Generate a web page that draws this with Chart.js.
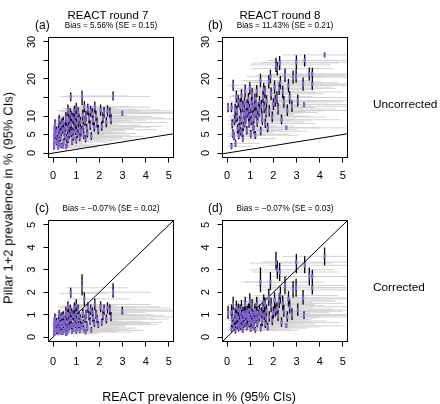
<!DOCTYPE html>
<html>
<head>
<meta charset="utf-8">
<script src="https://cdn.jsdelivr.net/npm/chart.js@4.4.1/dist/chart.umd.min.js"></script>
<style>
  body { margin: 0; background: #fff; }
  #wrap { position: relative; width: 440px; height: 404px; overflow: hidden; font-family: "Liberation Sans", Arial, sans-serif; color: #000; }
  canvas { position: absolute; left: 0; top: 0; }
  .t { position: absolute; white-space: nowrap; transform: translate(-50%, -50%); }
  .l { position: absolute; white-space: nowrap; transform: translateY(-50%); }
</style>
</head>
<body>
<div id="wrap">
  <canvas id="panelA" width="440" height="404"></canvas>
  <canvas id="panelB" width="440" height="404"></canvas>
  <canvas id="panelC" width="440" height="404"></canvas>
  <canvas id="panelD" width="440" height="404"></canvas>

  <div class="t" style="left:108px;top:15px;font-size:11.5px">REACT round 7</div>
  <div class="t" style="left:280px;top:15px;font-size:11.5px">REACT round 8</div>
  <div class="l" style="left:35px;top:25px;font-size:12px">(a)</div>
  <div class="l" style="left:208px;top:25px;font-size:12px">(b)</div>
  <div class="l" style="left:35px;top:208px;font-size:12px">(c)</div>
  <div class="l" style="left:208px;top:208px;font-size:12px">(d)</div>
  <div class="t" style="left:111px;top:25px;font-size:8.2px">Bias = 5.56% (SE = 0.15)</div>
  <div class="t" style="left:285px;top:25px;font-size:8.2px">Bias = 11.43% (SE = 0.21)</div>
  <div class="t" style="left:111px;top:208px;font-size:8.2px">Bias = −0.07% (SE = 0.02)</div>
  <div class="t" style="left:285px;top:208px;font-size:8.2px">Bias = −0.07% (SE = 0.03)</div>
  <div class="l" style="left:373px;top:104px;font-size:11.8px">Uncorrected</div>
  <div class="l" style="left:373px;top:287px;font-size:11.8px">Corrected</div>
  <div class="t" style="left:8px;top:198px;font-size:13px;transform:translate(-50%,-50%) rotate(-90deg)">Pillar 1+2 prevalence in % (95% CIs)</div>
  <div class="t" style="left:199px;top:397px;font-size:12.5px">REACT prevalence in % (95% CIs)</div>
</div>
<script>
// tick labels
const xTickLabels = [0, 1, 2, 3, 4, 5];
const uncorrectedYLabels = [0, 5, 10, 20, 30];
const correctedYLabels = [0, 1, 2, 3, 4, 5];

// REACT round 7: REACT prevalence (x) with 95% CI
const r7X   = [0.04,0.05,0.06,0.05,0.07,0.06,0.08,0.22,0.25,0.20,0.28,0.24,0.30,0.26,0.32,0.42,0.45,0.50,0.48,0.52,0.44,0.55,0.40,0.60,0.65,0.70,0.62,0.72,0.68,0.76,0.74,0.82,0.88,0.85,0.90,0.95,0.80,0.92,1.00,1.05,1.10,1.02,1.12,1.08,1.15,1.25,1.35,1.20,1.30,1.38,1.28,1.40,1.50,1.55,1.60,1.48,1.65,1.70,1.80,1.85,1.90,1.95,1.78,2.05,2.15,2.20,2.30,2.35,2.45,2.50,2.10,2.59,2.99,
               0.35,0.38,0.58,0.58,0.66,0.78,0.78,0.86,0.97,0.98,1.18,1.22,1.32,1.45,1.42,1.62,1.72,0.15,0.15,0.12,0.35,0.55,1.00,0.64];
const r7XLo = [0.00,0.00,0.00,0.00,0.00,0.00,0.00,0.02,0.03,0.02,0.05,0.03,0.05,0.04,0.06,0.08,0.10,0.12,0.10,0.12,0.10,0.15,0.08,0.15,0.18,0.20,0.16,0.20,0.20,0.30,0.22,0.25,0.28,0.26,0.30,0.32,0.25,0.30,0.40,0.42,0.45,0.40,0.45,0.44,0.50,0.55,0.60,0.50,0.58,0.60,0.55,0.60,0.65,0.70,0.72,0.65,0.75,0.78,0.85,0.90,0.95,0.95,0.85,1.00,1.05,1.10,1.15,1.20,1.25,1.30,1.05,1.20,1.50,
               0.06,0.07,0.15,0.15,0.19,0.24,0.24,0.27,0.34,0.35,0.50,0.52,0.58,0.64,0.62,0.73,0.80,0.01,0.01,0.01,0.06,0.14,0.40,0.17];
const r7XHi = [0.7,0.8,0.9,0.8,1.0,0.9,1.1,1.2,1.3,1.1,1.4,1.3,1.5,1.3,1.6,1.6,1.7,1.8,1.9,1.9,1.7,2.0,1.6,2.0,2.1,2.2,2.1,2.3,2.2,2.4,2.3,2.4,2.5,2.5,2.6,2.7,2.4,2.6,2.7,2.8,2.9,2.8,3.0,2.9,3.0,3.2,3.3,3.1,3.2,3.4,3.2,3.4,3.6,3.7,3.8,3.6,3.9,4.0,4.2,4.3,4.4,4.5,4.2,4.6,4.8,4.9,5.0,5.1,5.3,5.3,4.7,4.2,5.3,
               1.5,1.5,2.0,2.0,2.2,2.4,2.4,2.5,2.7,2.7,3.1,3.1,3.3,3.5,3.5,3.8,4.0,1.0,1.0,0.9,1.5,1.9,2.7,2.1];
// round 7: Pillar 1+2 prevalence, uncorrected
const r7YUnc   = [1.5,2.4,3.3,4.4,5.4,6.6,7.7,1.4,2.6,3.8,5.0,6.2,7.3,8.8,4.2,1.9,3.0,4.5,5.8,7.0,8.3,9.5,6.4,2.2,3.6,5.0,6.3,7.6,9.0,15.2,10.5,3.0,4.3,5.7,7.0,8.4,9.8,11.2,3.5,5.2,6.5,7.8,9.2,10.8,4.2,15.4,12.5,5.6,7.2,8.7,10.2,3.8,11.8,9.4,7.5,5.3,4.5,10.6,12.4,9.9,8.2,6.3,7.0,11.6,9.5,11.0,8.3,11.4,10.9,9.2,7.2,15.3,10.7,
                  5.6,7.9,4.0,8.7,6.9,5.4,8.0,9.3,6.0,10.0,8.4,6.1,4.8,6.6,9.9,11.3,8.9,3.0,6.0,4.9,2.0,1.6,12.0,11.5];
const r7YUncLo = [0.9,1.6,2.4,3.4,4.3,5.4,6.3,0.8,1.8,2.8,3.9,5.0,6.0,7.4,3.1,1.2,2.2,3.5,4.6,5.7,6.9,8.0,5.2,1.5,2.7,3.9,5.1,6.3,7.6,14.0,9.0,2.2,3.3,4.6,5.8,7.0,8.3,9.7,2.6,4.1,5.3,6.5,7.8,9.3,3.2,12.9,11.0,4.5,6.0,7.3,8.7,2.9,10.3,8.0,6.2,4.2,3.5,9.1,10.9,8.5,6.9,5.1,5.8,10.1,8.1,9.5,7.0,9.9,9.4,7.8,6.0,14.2,10.0,
                  4.5,6.6,3.0,7.3,5.7,4.3,6.7,7.9,4.9,8.5,7.1,5.0,3.8,5.4,8.5,9.8,7.5,2.1,4.9,3.8,1.3,1.0,10.5,10.0];
const r7YUncHi = [2.2,3.3,4.3,5.5,6.6,7.9,9.1,2.1,3.5,4.9,6.2,7.5,8.7,10.3,5.4,2.7,3.9,5.6,7.1,8.4,9.8,11.1,7.7,3.0,4.6,6.2,7.6,9.0,10.5,16.4,12.1,3.9,5.4,6.9,8.3,9.9,11.3,12.8,4.5,6.4,7.8,9.2,10.7,12.4,5.3,16.8,14.0,6.8,8.5,10.1,11.7,4.8,13.3,10.9,8.8,6.5,5.6,12.1,13.9,11.4,9.6,7.6,8.3,13.1,11.0,12.5,9.7,12.9,12.4,10.6,8.5,16.6,11.4,
                  6.8,9.3,5.1,10.2,8.2,6.6,9.4,10.8,7.2,11.6,9.8,7.3,5.9,7.9,11.4,12.8,10.3,4.0,7.2,6.1,2.8,2.4,13.6,13.1];
// round 7: Pillar 1+2 prevalence, corrected
const r7YCor   = [0.15,0.25,0.35,0.50,0.60,0.75,0.85,0.20,0.30,0.40,0.55,0.70,0.85,1.00,0.45,0.20,0.30,0.45,0.60,0.75,0.95,1.10,0.65,0.18,0.30,0.45,0.60,0.80,1.00,1.95,1.20,0.25,0.35,0.50,0.65,0.85,1.05,1.30,0.25,0.40,0.55,0.75,0.95,1.20,0.30,2.20,1.70,0.45,0.60,0.80,1.05,0.22,1.30,0.95,0.70,0.40,0.30,1.10,1.45,1.00,0.80,0.55,0.60,1.35,0.95,1.20,0.80,1.30,1.20,0.90,0.65,2.00,1.15,
                  0.60,0.90,0.40,0.95,0.70,0.50,0.80,0.95,0.55,1.05,0.80,0.50,0.35,0.55,1.00,1.20,0.85,0.30,0.65,0.55,0.22,0.15,1.40,1.35];
const r7YCorLo = [0.05,0.10,0.20,0.35,0.45,0.55,0.65,0.08,0.15,0.25,0.40,0.50,0.65,0.80,0.30,0.10,0.18,0.30,0.45,0.55,0.75,0.90,0.50,0.08,0.20,0.30,0.45,0.60,0.80,1.75,1.00,0.15,0.22,0.35,0.50,0.65,0.85,1.05,0.15,0.28,0.40,0.58,0.75,0.98,0.18,1.85,1.40,0.32,0.45,0.62,0.85,0.12,1.08,0.75,0.55,0.28,0.20,0.90,1.20,0.80,0.62,0.40,0.45,1.10,0.75,0.98,0.62,1.05,0.98,0.70,0.50,1.75,1.00,
                  0.45,0.70,0.28,0.75,0.52,0.36,0.62,0.75,0.40,0.85,0.62,0.36,0.24,0.40,0.80,0.98,0.66,0.18,0.48,0.40,0.10,0.06,1.15,1.10];
const r7YCorHi = [0.30,0.40,0.50,0.65,0.80,0.95,1.05,0.35,0.45,0.55,0.70,0.90,1.05,1.20,0.60,0.35,0.45,0.60,0.80,0.95,1.15,1.35,0.85,0.30,0.45,0.60,0.80,1.00,1.25,2.20,1.45,0.40,0.50,0.65,0.85,1.05,1.30,1.55,0.38,0.55,0.72,0.95,1.15,1.45,0.45,2.80,2.00,0.60,0.78,1.00,1.28,0.35,1.55,1.15,0.88,0.55,0.45,1.32,1.72,1.22,1.00,0.72,0.78,1.60,1.18,1.45,1.00,1.55,1.45,1.12,0.82,2.40,1.35,
                  0.78,1.10,0.55,1.18,0.90,0.66,1.00,1.18,0.72,1.28,1.00,0.66,0.50,0.72,1.22,1.45,1.05,0.45,0.85,0.72,0.36,0.28,1.68,1.60];

// REACT round 8: REACT prevalence (x) with 95% CI
const r8X   = [0.04,0.19,0.19,0.26,0.36,0.22,0.25,0.30,0.38,0.42,0.45,0.50,0.48,0.55,0.58,0.60,0.65,0.62,0.70,0.72,0.75,0.80,0.78,0.85,0.88,0.92,0.95,0.90,1.00,1.02,1.05,1.08,1.10,1.12,1.15,1.18,1.20,1.22,1.25,1.28,1.30,1.35,1.44,1.40,1.45,1.50,1.55,1.58,1.60,1.65,1.70,1.75,1.80,1.82,1.87,1.90,1.95,2.00,2.05,2.11,2.17,2.15,2.20,2.27,2.30,2.35,2.40,2.45,2.50,2.56,2.60,2.65,2.70,2.80,2.85,2.99,2.98,3.05,3.28,3.32,3.35,3.55,3.68,3.68,4.21,0.68,0.52,0.82,1.38,0.98,
               0.32,0.35,0.44,0.56,0.62,0.68,0.73,0.76,0.86,0.93,0.96,1.04,1.07,1.14,1.16,1.24,1.32,1.48,1.52,1.63,1.68,2.08,2.25,0.58,0.40];
const r8XLo = [0.00,0.02,0.02,0.04,0.06,0.03,0.04,0.05,0.07,0.08,0.10,0.12,0.11,0.14,0.15,0.16,0.18,0.17,0.20,0.21,0.22,0.25,0.24,0.27,0.28,0.30,0.32,0.30,0.38,0.39,0.40,0.42,0.43,0.44,0.46,0.48,0.50,0.50,0.52,0.54,0.55,0.58,0.62,0.60,0.62,0.65,0.68,0.70,0.70,0.73,0.76,0.78,0.80,0.82,0.85,0.86,0.90,0.92,0.95,1.00,1.02,1.00,1.05,1.08,1.10,1.12,1.15,1.20,1.22,1.25,1.28,1.30,1.32,1.40,1.42,1.50,1.50,1.55,1.70,1.72,1.75,1.85,1.95,1.95,2.40,0.20,0.12,0.26,0.60,0.35,
               0.05,0.06,0.09,0.14,0.17,0.20,0.21,0.23,0.27,0.31,0.33,0.40,0.41,0.45,0.47,0.51,0.56,0.64,0.66,0.72,0.75,0.97,1.07,0.15,0.08];
const r8XHi = [0.9,1.1,1.1,1.3,1.4,1.2,1.2,1.3,1.5,1.5,1.6,1.7,1.7,1.8,1.9,1.9,2.0,2.0,2.1,2.2,2.2,2.3,2.3,2.4,2.4,2.5,2.6,2.5,2.7,2.7,2.8,2.8,2.9,2.9,3.0,3.0,3.1,3.1,3.2,3.2,3.3,3.3,3.5,3.4,3.5,3.6,3.7,3.7,3.8,3.8,3.9,4.0,4.1,4.1,4.2,4.2,4.3,4.4,4.5,4.5,4.6,4.6,4.7,4.8,4.8,4.9,5.0,5.0,5.1,5.1,5.2,5.2,5.3,5.3,5.3,5.3,5.3,5.3,5.3,5.3,5.3,5.3,5.3,5.3,5.3,2.1,1.8,2.3,3.4,2.6,
               1.4,1.4,1.6,1.8,2.0,2.1,2.2,2.2,2.4,2.5,2.6,2.8,2.8,2.9,3.0,3.1,3.3,3.6,3.6,3.8,3.9,4.5,4.7,1.9,1.5];
// round 8: Pillar 1+2 prevalence, uncorrected
const r8YUnc   = [12.3,12.3,1.8,18.3,2.6,7.8,5.2,4.5,9.5,11.3,6.5,4.7,14.0,8.6,12.6,10.2,5.4,15.5,7.2,11.8,13.5,9.3,16.8,6.1,11.0,14.6,8.0,12.7,10.3,5.1,13.6,15.8,11.9,7.3,9.2,12.8,14.5,4.8,10.8,16.7,8.4,12.1,19.6,13.8,5.9,10.0,15.2,17.2,12.3,8.0,14.0,6.8,19.2,11.4,20.6,16.0,9.7,13.2,17.8,23.8,22.8,15.0,11.9,24.3,19.0,9.0,16.5,13.8,21.0,6.8,11.5,18.2,15.0,12.6,20.5,24.5,20.8,14.2,18.6,13.1,25.0,21.3,18.6,21.3,26.5,3.9,7.0,10.6,11.2,17.5,
                  8.8,11.8,10.0,13.2,9.0,12.5,10.5,8.1,13.0,9.8,11.7,8.8,12.4,10.4,6.3,13.1,9.9,12.7,8.9,16.4,10.9,14.1,17.4,5.9,15.2];
const r8YUncLo = [11.0,11.0,1.0,16.8,1.7,6.6,4.1,3.5,8.2,9.9,5.3,3.7,12.4,7.3,11.1,8.8,4.3,13.9,6.0,10.3,12.0,8.0,15.1,5.0,9.6,13.0,6.8,11.2,8.9,4.1,12.1,14.2,10.4,6.1,7.9,11.3,12.9,3.8,9.4,15.0,7.1,10.6,17.8,12.2,4.8,8.6,13.6,15.5,10.8,6.8,12.4,5.6,17.4,9.9,18.8,14.3,8.3,11.6,16.0,21.9,21.0,13.4,10.4,22.4,17.2,7.7,14.8,12.2,19.2,6.2,10.0,16.4,13.3,11.1,18.7,22.6,19.0,12.6,16.8,12.4,23.4,19.5,17.0,19.6,25.8,3.0,5.8,9.2,9.8,15.8,
                  7.5,10.4,8.6,11.7,7.7,11.0,9.1,6.9,11.5,8.4,10.2,7.5,10.9,9.0,5.2,11.6,8.5,11.2,7.6,14.8,9.5,12.5,15.7,4.8,13.6];
const r8YUncHi = [13.5,13.6,2.7,19.8,3.6,9.1,6.4,5.6,10.9,12.8,7.8,5.8,15.6,10.0,14.1,11.7,6.6,17.2,8.5,13.4,15.1,10.7,18.5,7.3,12.5,16.2,9.3,14.3,11.8,6.2,15.2,17.5,13.5,8.6,10.6,14.4,16.1,5.9,12.3,18.4,9.8,13.7,21.4,15.4,7.1,11.5,16.9,18.9,13.9,9.3,15.6,8.1,21.0,13.0,22.5,17.7,11.2,14.8,19.6,25.7,24.6,16.7,13.5,26.2,20.8,10.4,18.2,15.4,22.8,7.4,13.1,20.0,16.7,14.2,22.3,26.4,22.6,15.8,20.4,13.8,26.6,23.1,20.2,23.0,27.2,4.9,8.3,12.1,12.7,19.2,
                  10.2,13.3,11.5,14.8,10.4,14.1,12.0,9.4,14.6,11.3,13.3,10.2,14.0,11.9,7.5,14.7,11.4,14.3,10.3,18.1,12.4,15.7,19.1,7.1,16.9];
// round 8: Pillar 1+2 prevalence, corrected
const r8YCor   = [1.05,1.10,0.35,1.45,0.30,0.85,0.60,0.45,0.80,0.95,0.55,0.40,1.20,0.70,1.05,0.85,0.40,1.30,0.55,0.95,1.10,0.70,1.45,0.45,0.85,1.20,0.60,1.00,0.80,0.35,1.10,1.35,0.95,0.55,0.72,1.05,1.20,0.30,0.85,1.45,0.62,0.98,2.45,1.15,0.40,0.78,1.30,1.55,1.00,0.58,1.15,0.45,1.75,0.90,2.45,1.40,0.72,1.08,1.65,3.30,3.00,1.25,0.95,2.90,1.85,0.65,1.50,1.15,2.30,0.50,0.90,1.70,1.35,1.00,2.10,3.35,2.20,1.20,1.75,0.97,3.20,2.70,2.20,2.70,3.60,0.30,0.60,0.95,0.90,1.60,
                  0.75,1.00,0.85,1.15,0.75,1.05,0.85,0.62,1.10,0.78,0.95,0.68,1.02,0.82,0.45,1.08,0.78,1.05,0.68,1.45,0.85,1.18,1.60,0.48,1.30];
const r8YCorLo = [0.80,0.85,0.20,1.20,0.15,0.60,0.40,0.30,0.55,0.70,0.35,0.25,0.90,0.50,0.80,0.60,0.25,1.00,0.38,0.70,0.85,0.50,1.10,0.30,0.62,0.95,0.42,0.75,0.58,0.22,0.85,1.05,0.72,0.38,0.52,0.80,0.92,0.18,0.62,1.15,0.44,0.75,2.00,0.90,0.25,0.56,1.02,1.22,0.76,0.40,0.90,0.30,1.40,0.68,2.10,1.10,0.52,0.83,1.30,3.00,2.60,0.98,0.72,2.50,1.50,0.46,1.18,0.90,1.90,0.40,0.68,1.35,1.05,0.76,1.75,2.85,1.80,0.95,1.45,0.80,2.85,2.30,1.90,2.35,3.20,0.18,0.40,0.70,0.68,1.25,
                  0.50,0.75,0.60,0.88,0.52,0.80,0.62,0.44,0.85,0.56,0.72,0.48,0.78,0.60,0.30,0.83,0.56,0.80,0.48,1.15,0.62,0.92,1.28,0.32,1.02];
const r8YCorHi = [1.40,1.45,0.55,1.80,0.50,1.15,0.85,0.70,1.10,1.25,0.80,0.60,1.50,0.95,1.35,1.10,0.60,1.65,0.78,1.22,1.40,0.95,1.80,0.65,1.10,1.50,0.82,1.28,1.05,0.52,1.38,1.70,1.22,0.75,0.95,1.32,1.50,0.45,1.10,1.80,0.85,1.25,3.10,1.45,0.58,1.02,1.62,1.90,1.28,0.80,1.45,0.65,2.15,1.15,2.90,1.75,0.96,1.35,2.00,3.80,3.40,1.55,1.22,3.30,2.25,0.88,1.85,1.45,2.70,0.60,1.15,2.05,1.68,1.28,2.50,3.70,2.60,1.50,2.10,1.15,3.60,3.10,2.60,3.00,4.00,0.48,0.85,1.20,1.15,1.95,
                  1.05,1.30,1.15,1.45,1.00,1.35,1.10,0.85,1.40,1.02,1.22,0.90,1.30,1.08,0.65,1.38,1.02,1.32,0.90,1.78,1.10,1.48,1.95,0.68,1.62];

// identity line ends (x = y), in data units
const identityEnds = [-0.2, 5.2];

const purple = "#8163d6";
const ciGrey = "#d2d2d2";

// outer box of each panel
const frame = {
  id: "frame",
  afterDraw(chart) {
    const { ctx, chartArea } = chart;
    ctx.save();
    ctx.strokeStyle = "#000";
    ctx.lineWidth = 1;
    ctx.strokeRect(chartArea.left, chartArea.top, chartArea.right - chartArea.left, chartArea.bottom - chartArea.top);
    ctx.restore();
  },
};

// build "segment" data for error bars: two ends, then a gap
function horizontalBars(y, lo, hi) {
  const pts = [];
  y.forEach((v, i) => {
    pts.push({ x: lo[i], y: v }, { x: hi[i], y: v }, { x: null, y: null });
  });
  return pts;
}
function verticalBars(x, lo, hi) {
  const pts = [];
  x.forEach((v, i) => {
    pts.push({ x: v, y: lo[i] }, { x: v, y: hi[i] }, { x: null, y: null });
  });
  return pts;
}

function drawPanel(id, area, x, xLo, xHi, y, yLo, yHi, yScale) {
  const yAxisWidth = 26;
  const xAxisHeight = 30;
  const tickFont = { family: "'Liberation Sans', Arial, sans-serif", size: 11 };

  new Chart(document.getElementById(id), {
    type: "scatter",
    data: {
      datasets: [
        {
          data: x.map((v, i) => ({ x: v, y: y[i] })),
          showLine: false,
          pointStyle: "line",
          pointRotation: 90,
          pointRadius: 2.2,
          pointBorderWidth: 2.1,
          pointBorderColor: purple,
          pointBackgroundColor: purple,
        },
        {
          data: [
            { x: identityEnds[0], y: identityEnds[0] },
            { x: identityEnds[1], y: identityEnds[1] },
          ],
          showLine: true,
          borderColor: "#000",
          borderWidth: 1,
          pointRadius: 0,
        },
        {
          data: verticalBars(x, yLo, yHi),
          showLine: true,
          spanGaps: false,
          borderColor: "#000",
          borderWidth: 1.3,
          pointRadius: 0,
        },
        {
          data: horizontalBars(y, xLo, xHi),
          showLine: true,
          spanGaps: false,
          borderColor: ciGrey,
          borderWidth: 1,
          pointRadius: 0,
        },
      ],
    },
    options: {
      responsive: false,
      animation: false,
      events: [],
      layout: {
        padding: {
          left: area.left - yAxisWidth,
          top: area.top,
          right: 440 - area.right,
          bottom: 404 - area.bottom - xAxisHeight,
        },
      },
      plugins: { legend: { display: false }, tooltip: { enabled: false } },
      scales: {
        x: {
          type: "linear",
          min: -0.2,
          max: 5.2,
          afterFit: (s) => { s.height = xAxisHeight; },
          grid: { drawOnChartArea: false, drawTicks: true, tickLength: 5, tickColor: "#000" },
          border: { display: true, color: "#000", width: 1 },
          ticks: {
            stepSize: 1,
            includeBounds: false,
            autoSkip: false,
            maxRotation: 0,
            padding: area.xPad,
            color: "#000",
            font: tickFont,
            callback: (v) => (xTickLabels.includes(v) ? String(v) : ""),
          },
        },
        y: {
          type: "linear",
          min: yScale.min,
          max: yScale.max,
          afterFit: (s) => { s.width = yAxisWidth; },
          grid: { drawOnChartArea: false, drawTicks: true, tickLength: 5, tickColor: "#000" },
          border: { display: true, color: "#000", width: 1 },
          ticks: {
            stepSize: yScale.step,
            includeBounds: false,
            autoSkip: false,
            minRotation: 90,
            maxRotation: 90,
            crossAlign: "center",
            padding: yScale.pad,
            color: "#000",
            font: tickFont,
            callback: (v) => (yScale.labels.includes(v) ? String(v) : ""),
          },
        },
      },
    },
    plugins: [frame],
  });
}

const uncorrectedScale = { min: -1.2, max: 31.2, step: 5, labels: uncorrectedYLabels, pad: 5 };
const correctedScale = { min: -0.2, max: 5.2, step: 1, labels: correctedYLabels, pad: 8 };

drawPanel("panelA", { left: 48.5, right: 173.5, top: 37.5, bottom: 157.5, xPad: 7 },
  r7X, r7XLo, r7XHi, r7YUnc, r7YUncLo, r7YUncHi, uncorrectedScale);
drawPanel("panelB", { left: 222.5, right: 347.5, top: 37.5, bottom: 157.5, xPad: 7 },
  r8X, r8XLo, r8XHi, r8YUnc, r8YUncLo, r8YUncHi, uncorrectedScale);
drawPanel("panelC", { left: 48.5, right: 173.5, top: 220.5, bottom: 341.5, xPad: 9 },
  r7X, r7XLo, r7XHi, r7YCor, r7YCorLo, r7YCorHi, correctedScale);
drawPanel("panelD", { left: 222.5, right: 347.5, top: 220.5, bottom: 341.5, xPad: 9 },
  r8X, r8XLo, r8XHi, r8YCor, r8YCorLo, r8YCorHi, correctedScale);
</script>
</body>
</html>
